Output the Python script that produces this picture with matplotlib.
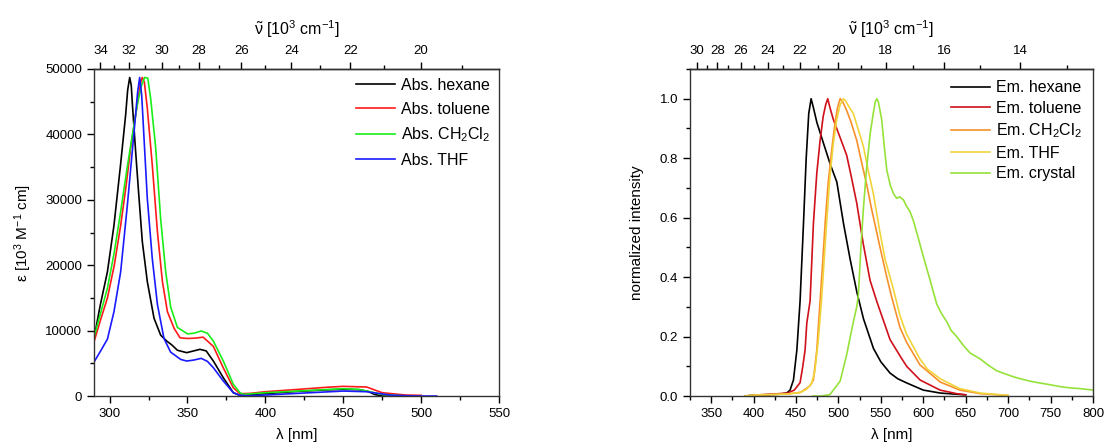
import matplotlib
matplotlib.use('Agg')
import matplotlib.pyplot as plt
from matplotlib.ticker import MultipleLocator, FormatStrFormatter, FixedLocator

plt.rcParams['font.family'] = ['Liberation Sans', 'DejaVu Sans']
plt.rcParams['mathtext.fontset'] = 'custom'
plt.rcParams['mathtext.rm'] = 'Liberation Sans'
plt.rcParams['mathtext.it'] = 'Liberation Sans:italic'
plt.rcParams['mathtext.bf'] = 'Liberation Sans:bold'

# ---- absorption data (wavelength nm, epsilon) ----
abs_hex_wl = [290, 294, 298.6, 302.8, 307, 310.3, 311.6, 312.9, 313.9, 314.6, 316.7, 318.9, 321, 324.2,
              328.5, 332.8, 336.7, 340, 343.5, 349.5, 354, 358, 362, 366.6, 373, 379.4, 383.7, 390,
              400, 420, 440, 450, 460, 466, 470, 475, 480]
abs_hex_eps = [8800, 13900, 19000, 26100, 35300, 43000, 46800, 48700, 47500, 44700, 37400, 30200, 23600, 17500,
               11900, 9300, 8400, 7800, 7000, 6630, 6900, 7140, 6900, 5350, 2800, 510, 100, 200,
               360, 700, 950, 1020, 970, 700, 250, 0, 0]

abs_tol_wl = [290, 294, 298.6, 303, 307.1, 310.5, 313.5, 317.8, 320, 321, 322.3, 324.2, 327.4, 330.7,
              333.9, 337.1, 341.4, 345.2, 350, 355, 360, 366.6, 373, 379.4, 383.7, 390, 400, 420,
              440, 450, 465, 475, 490, 500]
abs_tol_eps = [8300, 11500, 15000, 20000, 26100, 32000, 37900, 44700, 48000, 48700, 48000, 44000, 35300, 25100,
               17500, 12900, 10350, 8900, 8800, 8850, 9000, 7600, 4300, 1270, 350, 400, 660, 1000,
               1350, 1480, 1380, 510, 150, 100]

abs_dcm_wl = [290, 294, 298.6, 303, 307.1, 311, 315, 318, 320.5, 322.5, 324.5, 326.4, 329.6, 332.8,
              336, 339.2, 343.5, 350, 354, 358.8, 362.8, 366.6, 373, 379.4, 383.7, 386, 400, 420,
              440, 450, 460, 475, 490]
abs_dcm_eps = [9000, 12500, 16500, 22000, 28200, 34500, 40500, 44800, 47500, 48700, 48600, 45400, 37900, 27000,
               19000, 13600, 10500, 9500, 9600, 9940, 9600, 8400, 5350, 1800, 500, 250, 510, 750,
               1000, 1120, 1020, 250, 0]

abs_thf_wl = [290, 294, 298.6, 302.8, 307.1, 311.4, 315.7, 318, 319.3, 320.6, 322.1, 324.2, 327.4, 330.7,
              334.9, 339.2, 341, 345.6, 349.5, 354, 358.8, 362.8, 366.6, 373, 379.4, 383.7, 390, 400,
              420, 450, 465, 480, 490, 500, 510]
abs_thf_eps = [5200, 6800, 8700, 12900, 19000, 29200, 40400, 46500, 48700, 46000, 39400, 30200, 21000, 14000,
               8800, 6700, 6400, 5600, 5350, 5500, 5760, 5300, 4330, 2300, 510, 100, 50, 150,
               400, 760, 660, 150, 50, 0, 0]

# ---- emission data (wavelength nm, normalized intensity) ----
em_hex_wl = [390, 400, 420, 430, 439, 443, 447, 451, 454.8, 458.8, 462, 465, 467.8, 470.5, 474.6, 482.4,
             490.3, 498.1, 506, 513.8, 521.7, 529.5, 541.3, 550, 560.9, 570, 580.5, 600, 620, 639.6, 650]
em_hex_int = [0, 0.003, 0.005, 0.006, 0.01, 0.02, 0.054, 0.155, 0.32, 0.58, 0.8, 0.95, 1.0, 0.97, 0.92, 0.85,
              0.78, 0.72, 0.58, 0.46, 0.35, 0.26, 0.16, 0.115, 0.077, 0.058, 0.044, 0.02, 0.01, 0.006, 0.004]

em_tol_wl = [400, 420, 440, 448, 454.8, 458, 460.7, 462.7, 466.6, 470.5, 474.5, 478.4, 482, 485, 487.4, 490,
             494, 501.9, 509.7, 515, 521.5, 529.4, 537.2, 545, 560.8, 572.6, 580.4, 596.2, 619.8, 639.3, 650]
em_tol_int = [0.003, 0.006, 0.01, 0.02, 0.045, 0.1, 0.155, 0.245, 0.32, 0.58, 0.75, 0.86, 0.94, 0.98, 1.0, 0.97,
              0.93, 0.87, 0.81, 0.74, 0.65, 0.51, 0.39, 0.32, 0.19, 0.135, 0.1, 0.054, 0.02, 0.008, 0.004]

em_dcm_wl = [390, 400, 420, 440, 455, 462, 466.6, 470.5, 474.5, 478.4, 481, 484.3, 488, 492.2, 496, 499, 502,
             505, 509.8, 515, 521.6, 527, 533.4, 539, 545.2, 549, 557, 563, 572.6, 580.5, 596, 620, 643, 667, 700]
em_dcm_int = [0, 0.003, 0.005, 0.007, 0.012, 0.025, 0.035, 0.054, 0.155, 0.32, 0.43, 0.58, 0.72, 0.83, 0.92, 0.97, 1.0,
              0.99, 0.96, 0.92, 0.86, 0.79, 0.71, 0.63, 0.55, 0.5, 0.4, 0.33, 0.23, 0.18, 0.105, 0.047, 0.02, 0.008, 0.002]

em_thf_wl = [390, 400, 420, 440, 455, 462, 468, 472, 476, 480, 483, 486, 490, 494, 498, 502, 505.9, 509, 512,
             517.6, 523, 529.4, 535, 541.2, 549, 555, 564.7, 572.6, 580, 596, 605, 620, 643, 667, 700]
em_thf_int = [0, 0.003, 0.005, 0.007, 0.012, 0.022, 0.04, 0.08, 0.18, 0.32, 0.45, 0.58, 0.74, 0.85, 0.93, 0.98, 1.0, 0.99, 0.975,
              0.95, 0.9, 0.84, 0.76, 0.68, 0.55, 0.46, 0.36, 0.27, 0.21, 0.125, 0.09, 0.058, 0.025, 0.01, 0.002]

em_cry_wl = [470, 480, 490, 494, 502, 509.8, 514, 517.6, 521.6, 523.5, 526.5, 529.4, 533, 537.3, 541, 543.5, 545.2,
             547, 551, 554, 557, 561, 565, 568.7, 572, 576.6, 580, 584.4, 588.3, 592.3, 600, 608, 611.9, 615.8,
             621, 627.6, 633, 639.4, 647.3, 655, 667, 676, 686.5, 696, 706, 716, 725.8, 735, 745.5, 755, 765,
             775, 784.8, 800]
em_cry_int = [0, 0.0, 0.005, 0.02, 0.05, 0.14, 0.2, 0.25, 0.3, 0.34, 0.5, 0.63, 0.76, 0.88, 0.95, 0.99, 1.0,
              0.99, 0.93, 0.84, 0.76, 0.71, 0.68, 0.665, 0.67, 0.66, 0.64, 0.62, 0.59, 0.55, 0.47, 0.39, 0.35, 0.31,
              0.28, 0.25, 0.22, 0.2, 0.17, 0.145, 0.125, 0.105, 0.085, 0.075, 0.065, 0.057, 0.05, 0.045, 0.04, 0.035, 0.03,
              0.027, 0.025, 0.02]

abs_series = [
    (abs_hex_wl, abs_hex_eps, '#000000', 'Abs. hexane'),
    (abs_tol_wl, abs_tol_eps, '#ff1a1a', 'Abs. toluene'),
    (abs_dcm_wl, abs_dcm_eps, '#1aee1a', 'Abs. CH$_2$Cl$_2$'),
    (abs_thf_wl, abs_thf_eps, '#1a1aff', 'Abs. THF'),
]
em_series = [
    (em_hex_wl, em_hex_int, '#000000', 'Em. hexane'),
    (em_tol_wl, em_tol_int, '#d0101a', 'Em. toluene'),
    (em_dcm_wl, em_dcm_int, '#f7902a', 'Em. CH$_2$Cl$_2$'),
    (em_thf_wl, em_thf_int, '#f0d43a', 'Em. THF'),
    (em_cry_wl, em_cry_int, '#96e23a', 'Em. crystal'),
]

tick_fs = 9.5
label_fs = 11
top_label = r'$\tilde{\mathrm{\nu}}$ [10$^3$ cm$^{-1}$]'

fig = plt.figure(figsize=(11.05, 4.48), dpi=100)
ax1 = fig.add_axes([0.0851, 0.116, 0.3665, 0.730])
ax2 = fig.add_axes([0.6244, 0.116, 0.3647, 0.730])


def style_axes(ax):
    ax.tick_params(which='both', direction='out', top=False, right=False, labelsize=tick_fs, width=1)
    ax.tick_params(which='major', length=5)
    ax.tick_params(which='minor', length=3)
    for s in ax.spines.values():
        s.set_linewidth(1)
        s.set_color('#333333')


def add_top(ax, major, minor):
    sec = ax.secondary_xaxis('top', functions=(lambda x: 1e4 / x, lambda x: 1e4 / x))
    sec.xaxis.set_major_locator(FixedLocator(major))
    sec.xaxis.set_minor_locator(FixedLocator(minor))
    sec.tick_params(which='both', direction='out', labelsize=tick_fs, width=1)
    sec.tick_params(which='major', length=5)
    sec.tick_params(which='minor', length=3)
    sec.spines['top'].set_linewidth(1)
    sec.set_xlabel(top_label, fontsize=11.5, labelpad=7)
    return sec


# ---- absorption panel ----
for wl, y, c, lab in abs_series:
    ax1.plot(wl, y, color=c, lw=1.2, label=lab)
ax1.set_xlim(290, 550)
ax1.set_ylim(0, 50000)
ax1.xaxis.set_major_locator(MultipleLocator(50))
ax1.xaxis.set_minor_locator(MultipleLocator(25))
ax1.yaxis.set_major_locator(MultipleLocator(10000))
ax1.yaxis.set_minor_locator(MultipleLocator(5000))
style_axes(ax1)
ax1.set_xlabel('λ [nm]', fontsize=label_fs, labelpad=6)
ax1.set_ylabel('ε [10$^3$ M$^{-1}$ cm]', fontsize=label_fs, labelpad=8)
add_top(ax1, [34, 32, 30, 28, 26, 24, 22, 20], [33, 31, 29, 27, 25, 23, 21, 19])
ax1.legend(loc='upper right', frameon=False, fontsize=11.5, handlelength=2.4,
           labelspacing=0.55, handletextpad=0.4, borderaxespad=0.15)

# ---- emission panel ----
for wl, y, c, lab in em_series:
    ax2.plot(wl, y, color=c, lw=1.2, label=lab)
ax2.set_xlim(325, 800)
ax2.set_ylim(0, 1.1)
ax2.xaxis.set_major_locator(MultipleLocator(50))
ax2.xaxis.set_minor_locator(MultipleLocator(25))
ax2.yaxis.set_major_locator(MultipleLocator(0.2))
ax2.yaxis.set_minor_locator(MultipleLocator(0.1))
ax2.yaxis.set_major_formatter(FormatStrFormatter('%.1f'))
style_axes(ax2)
ax2.set_xlabel('λ [nm]', fontsize=label_fs, labelpad=6)
ax2.set_ylabel('normalized intensity', fontsize=label_fs, labelpad=11)
add_top(ax2, [30, 28, 26, 24, 22, 20, 18, 16, 14], [29, 27, 25, 23, 21, 19, 17, 15, 13])
ax2.legend(loc='upper right', frameon=False, fontsize=11.5, handlelength=2.4,
           labelspacing=0.35, handletextpad=0.4, borderaxespad=0.3)

fig.savefig('out.png', dpi=100)
